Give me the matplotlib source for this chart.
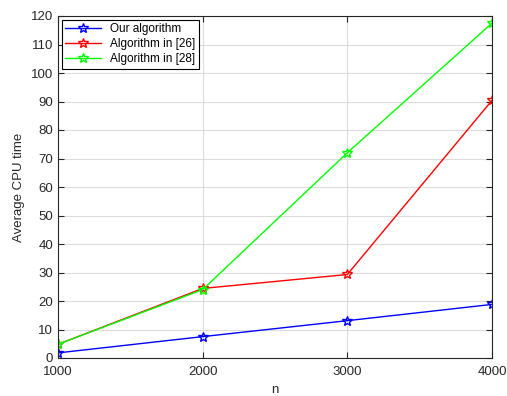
import matplotlib
matplotlib.use("Agg")
from matplotlib import pyplot as plt

n = [1000, 2000, 3000, 4000]
ours = [1.8, 7.5, 13.1, 18.8]
alg26 = [4.8, 24.4, 29.3, 90.4]
alg28 = [4.8, 24.0, 72.0, 117.5]

plt.rcParams['font.family'] = ['Liberation Sans', 'DejaVu Sans']
plt.rcParams['font.size'] = 9.5

fig = plt.figure(figsize=(5.07, 3.96), dpi=100)
ax = fig.add_axes([58 / 507, 1 - 358 / 396, (492 - 58) / 507, (358 - 16) / 396])

ax.plot(n, ours, color='blue', marker='*', markersize=7, markerfacecolor='none',
        linewidth=1, label='Our algorithm')
ax.plot(n, alg26, color='red', marker='*', markersize=7, markerfacecolor='none',
        linewidth=1, label='Algorithm in [26]')
ax.plot(n, alg28, color='#00ff00', marker='*', markersize=7, markerfacecolor='none',
        linewidth=1, label='Algorithm in [28]')

ax.set_xlim(1000, 4000)
ax.set_ylim(0, 120)
ax.set_xticks(n)
ax.set_yticks(range(0, 121, 10))
ax.grid(True, color='#dcdcdc', linewidth=0.8)
ax.set_axisbelow(True)
ax.tick_params(direction='in', top=True, right=True, colors='#262626', length=4)
ax.tick_params(axis='x', pad=6)
for s in ax.spines.values():
    s.set_color('#262626')
    s.set_linewidth(0.8)
ax.set_xlabel('n', color='#262626')
ax.set_ylabel('Average CPU time', color='#262626')

leg = ax.legend(loc='upper left', fancybox=False, framealpha=1, edgecolor='black',
                fontsize=8.5, borderaxespad=0.3, handlelength=3.0,
                borderpad=0.3, labelspacing=0.25)
leg.get_frame().set_linewidth(0.8)

fig.savefig('out.png', dpi=100)
